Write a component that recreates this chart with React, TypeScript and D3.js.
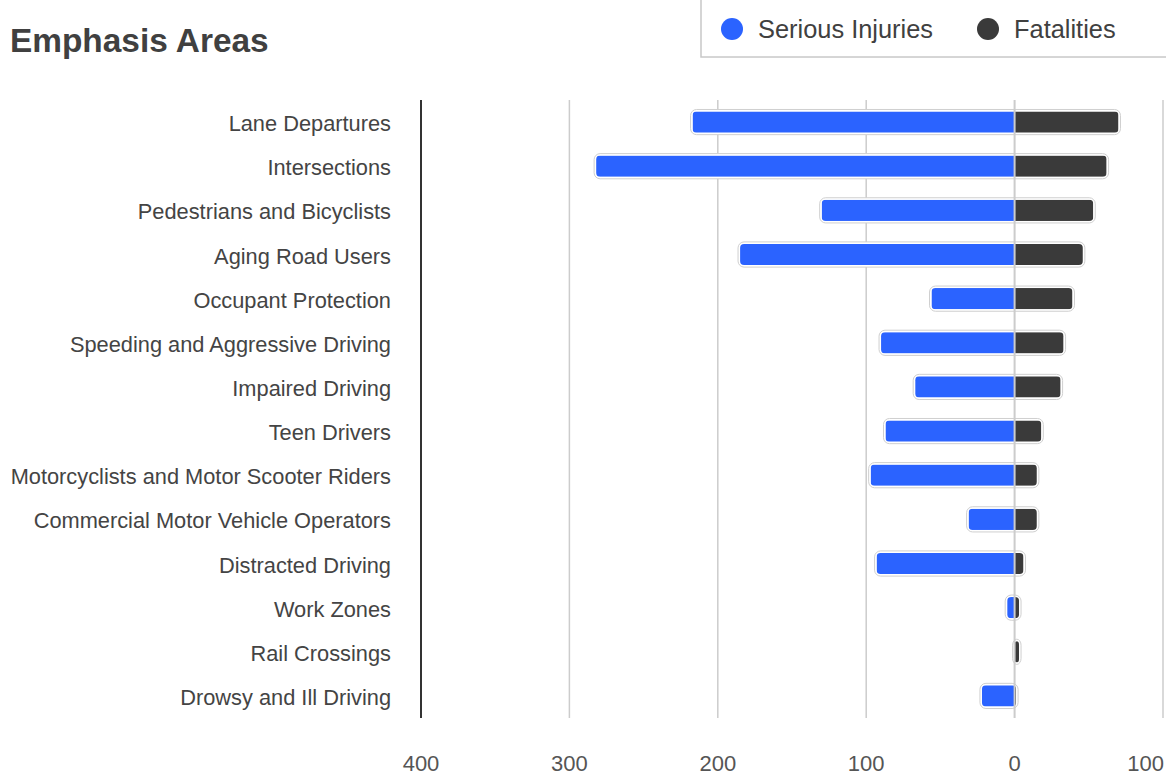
import React, {useEffect, useRef} from "react";
import * as d3 from "d3";

const categories = [
	"Lane Departures",
	"Intersections",
	"Pedestrians and Bicyclists",
	"Aging Road Users",
	"Occupant Protection",
	"Speeding and Aggressive Driving",
	"Impaired Driving",
	"Teen Drivers",
	"Motorcyclists and Motor Scooter Riders",
	"Commercial Motor Vehicle Operators",
	"Distracted Driving",
	"Work Zones",
	"Rail Crossings",
	"Drowsy and Ill Driving",
];
const seriousInjuries = [217, 282, 130, 185, 56, 90, 67, 87, 97, 31, 93, 5, 0, 22];
const fatalities = [70, 62, 53, 46, 39, 33, 31, 18, 15, 15, 6, 3, 3, 1];
const tickValues = [400, 300, 200, 100, 0, -100];

const W = 1166;
const H = 776;
const BLUE = "#2b63ff";
const DARK = "#3a3a3a";
const FONT = "'Liberation Sans', Arial, sans-serif";

const App: React.FC = () => {
	const svgRef = useRef<SVGSVGElement>(null);

	useEffect(() => {
		const svg = d3.select(svgRef.current);
		svg.selectAll("*").remove();

		const top = 100;
		const bottom = 718;

		const x = d3.scaleLinear().domain([400, -100]).range([421, 1163]);
		const y = d3
			.scaleBand<string>()
			.domain(categories)
			.range([top, bottom])
			.paddingInner(0.52)
			.paddingOuter(0.26);

		// Title
		svg
			.append("text")
			.attr("x", 10)
			.attr("y", 52)
			.style("font-family", FONT)
			.style("font-size", "33.4px")
			.style("font-weight", "bold")
			.style("fill", "#404040")
			.text("Emphasis Areas");

		// Legend box
		const lg = svg.append("g");
		lg.append("rect")
			.attr("x", 701)
			.attr("y", -4)
			.attr("width", 480)
			.attr("height", 61)
			.attr("fill", "#fff")
			.attr("stroke", "#c8c8c8")
			.attr("stroke-width", 1.5);
		const legendItems = [
			{label: "Serious Injuries", color: BLUE, cx: 732},
			{label: "Fatalities", color: DARK, cx: 988},
		];
		legendItems.forEach((d) => {
			lg.append("circle").attr("cx", d.cx).attr("cy", 29).attr("r", 11).attr("fill", d.color);
			lg.append("text")
				.attr("x", d.cx + 26)
				.attr("y", 38)
				.style("font-family", FONT)
				.style("font-size", "25.4px")
				.style("fill", "#404040")
				.text(d.label);
		});

		// Grid lines
		svg
			.append("g")
			.selectAll("line")
			.data(tickValues.filter((t) => t !== 400 && t !== 0))
			.enter()
			.append("line")
			.attr("x1", (d) => x(d))
			.attr("x2", (d) => x(d))
			.attr("y1", top)
			.attr("y2", bottom)
			.attr("stroke", "#cccccc")
			.attr("stroke-width", 1.5);

		// Bars
		const defs = svg.append("defs");
		const bars = svg.append("g");
		categories.forEach((c, i) => {
			const x0 = x(seriousInjuries[i]);
			const x1 = x(-fatalities[i]);
			const by = y(c) as number;
			const bh = y.bandwidth();
			bars.append("rect")
				.attr("x", x0 - 2)
				.attr("y", by - 2)
				.attr("width", x1 - x0 + 4)
				.attr("height", bh + 4)
				.attr("rx", 6)
				.attr("fill", "#fff")
				.attr("stroke", "#cfcfcf")
				.attr("stroke-width", 1);
			const clipId = `clip-${i}`;
			defs.append("clipPath")
				.attr("id", clipId)
				.append("rect")
				.attr("x", x0)
				.attr("y", by)
				.attr("width", x1 - x0)
				.attr("height", bh)
				.attr("rx", 4);
			const g = bars.append("g").attr("clip-path", `url(#${clipId})`);
			g.append("rect")
				.attr("x", x0)
				.attr("y", by)
				.attr("width", x(0) - x0)
				.attr("height", bh)
				.attr("fill", BLUE);
			g.append("rect")
				.attr("x", x(0))
				.attr("y", by)
				.attr("width", x1 - x(0))
				.attr("height", bh)
				.attr("fill", DARK);
		});

		// Zero line on top of bars
		svg
			.append("line")
			.attr("x1", x(0))
			.attr("x2", x(0))
			.attr("y1", top)
			.attr("y2", bottom)
			.attr("stroke", "#cccccc")
			.attr("stroke-width", 2);

		// Left axis line
		svg
			.append("line")
			.attr("x1", x(400))
			.attr("x2", x(400))
			.attr("y1", top)
			.attr("y2", bottom)
			.attr("stroke", "#333")
			.attr("stroke-width", 2);

		// Category labels
		svg
			.append("g")
			.selectAll("text")
			.data(categories)
			.enter()
			.append("text")
			.attr("x", 391)
			.attr("y", (d) => (y(d) as number) + y.bandwidth() / 2 + 9)
			.attr("text-anchor", "end")
			.style("font-family", FONT)
			.style("font-size", "21.8px")
			.style("fill", "#444")
			.text((d) => d);

		// Tick labels (last one kept inside the edge)
		svg
			.append("g")
			.selectAll("text")
			.data(tickValues)
			.enter()
			.append("text")
			.attr("x", (d, i) => (i === tickValues.length - 1 ? 1164 : x(d)))
			.attr("y", 771)
			.attr("text-anchor", (d, i) => (i === tickValues.length - 1 ? "end" : "middle"))
			.style("font-family", FONT)
			.style("font-size", "22px")
			.style("fill", "#555")
			.text((d) => String(Math.abs(d)));
	}, []);

	return (
		<svg
			ref={svgRef}
			width={W}
			height={H}
			style={{position: "absolute", left: 0, top: 0, background: "#fff"}}
		/>
	);
};

export default App;
